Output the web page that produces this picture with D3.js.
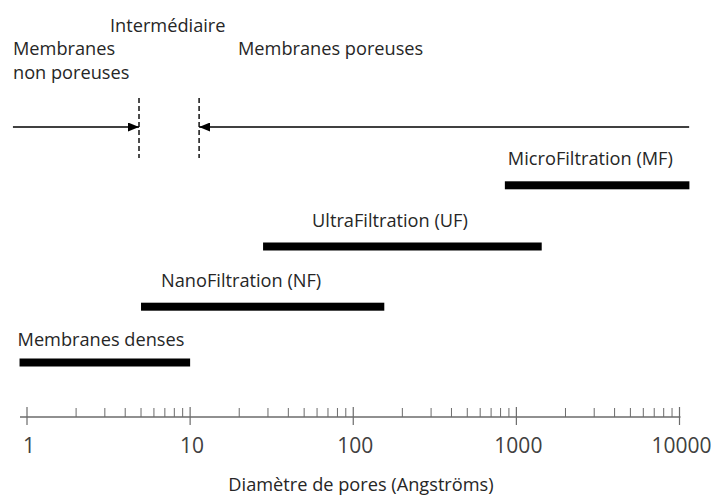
<!DOCTYPE html>
<html>
<head>
<meta charset="utf-8">
<script src="https://cdn.jsdelivr.net/npm/d3@7"></script>
<style>
  html, body { margin: 0; padding: 0; background: #fff; }
  svg { display: block; font-family: "Open Sans", "Noto Sans", sans-serif; }
</style>
</head>
<body>
<svg id="chart" width="711" height="495"></svg>
<script>
// ---- data ----
const categories = ["Membranes denses", "NanoFiltration (NF)", "UltraFiltration (UF)", "MicroFiltration (MF)"];
const rangeStart = [0.9, 5, 28, 850];
const rangeEnd = [10, 155, 1430, 11500];
const tickValues = [1, 10, 100, 1000, 10000];
const tickLabels = ["1", "10", "100", "1000", "10000"];
const boundaryValues = [4.86, 11.35];          // dashed boundary lines (Intermédiaire zone)
const arrowStartValues = [0.82, 11460];        // arrows run from here to the boundaries
const zoneLabels = ["Intermédiaire", "Membranes", "non poreuses", "Membranes poreuses"];
const axisTitle = "Diamètre de pores (Angströms)";

// ---- layout ----
const svg = d3.select("#chart");
const x = d3.scaleLog().domain([1, 10000]).range([27, 679.5]);
const rowY = d3.scaleOrdinal().domain(categories).range([362.5, 306.7, 246.5, 185.3]);
const labelDx = [-2, 20, 49, 3];
const labelDy = [-16.5, -20, -19.5, -20];
const barH = 8;
const fs = 18.2;

// ---- bars ----
const rows = categories.map((c, i) => ({ c, s: rangeStart[i], e: rangeEnd[i], i }));
svg.append("g").selectAll("rect").data(rows).join("rect")
  .attr("x", d => x(d.s))
  .attr("y", d => rowY(d.c) - barH / 2)
  .attr("width", d => x(d.e) - x(d.s))
  .attr("height", barH)
  .attr("fill", "#000");

svg.append("g").selectAll("text").data(rows).join("text")
  .attr("x", d => x(d.s) + labelDx[d.i])
  .attr("y", d => rowY(d.c) + labelDy[d.i])
  .attr("font-size", fs)
  .attr("fill", "#262626")
  .text(d => d.c);

// ---- arrows & boundaries ----
const defs = svg.append("defs");
defs.append("marker").attr("id", "ah")
  .attr("viewBox", "0 0 11 9").attr("refX", 11).attr("refY", 4.5)
  .attr("markerWidth", 11).attr("markerHeight", 9)
  .attr("markerUnits", "userSpaceOnUse")
  .attr("orient", "auto")
  .append("path").attr("d", "M0,0 L11,4.5 L0,9 Z").attr("fill", "#000");

const arrowY = 127;
boundaryValues.forEach((b, i) => {
  svg.append("line")
    .attr("x1", x(arrowStartValues[i])).attr("x2", x(b))
    .attr("y1", arrowY).attr("y2", arrowY)
    .attr("stroke", "#000").attr("stroke-width", 1.3)
    .attr("marker-end", "url(#ah)");
  svg.append("line")
    .attr("x1", x(b)).attr("x2", x(b))
    .attr("y1", 98).attr("y2", 158)
    .attr("stroke", "#000").attr("stroke-width", 1.4)
    .attr("stroke-dasharray", "5,3");
});

// zone labels
const zoneLayout = [[110, 32], [13, 55], [13, 79], [238, 55]];
svg.append("g").selectAll("text").data(zoneLabels).join("text")
  .attr("x", (d, i) => zoneLayout[i][0])
  .attr("y", (d, i) => zoneLayout[i][1])
  .attr("font-size", fs)
  .attr("fill", "#262626")
  .text(d => d);

// ---- axis ----
const axisY = 417;
const ag = svg.append("g");
ag.append("line").attr("x1", 20).attr("x2", x(10000) + 1)
  .attr("y1", axisY).attr("y2", axisY)
  .attr("stroke", "#6b6b6b").attr("stroke-width", 1.5);

const minorTicks = x.ticks().filter(v => !tickValues.includes(v));
ag.selectAll("line.minor").data(minorTicks).join("line").attr("class", "minor")
  .attr("x1", d => x(d)).attr("x2", d => x(d))
  .attr("y1", 408).attr("y2", axisY)
  .attr("stroke", "#6b6b6b").attr("stroke-width", 1);
ag.selectAll("line.major").data(tickValues).join("line").attr("class", "major")
  .attr("x1", d => x(d)).attr("x2", d => x(d))
  .attr("y1", 407).attr("y2", 425)
  .attr("stroke", "#6b6b6b").attr("stroke-width", 1.2);
ag.selectAll("text").data(tickValues).join("text")
  .attr("x", d => x(d) + 2)
  .attr("y", 453)
  .attr("text-anchor", "middle")
  .attr("font-size", 21)
  .attr("fill", "#404040")
  .text((d, i) => tickLabels[i]);

svg.append("text")
  .attr("x", 361).attr("y", 491)
  .attr("text-anchor", "middle")
  .attr("font-size", fs)
  .attr("fill", "#262626")
  .text(axisTitle);
</script>
</body>
</html>
